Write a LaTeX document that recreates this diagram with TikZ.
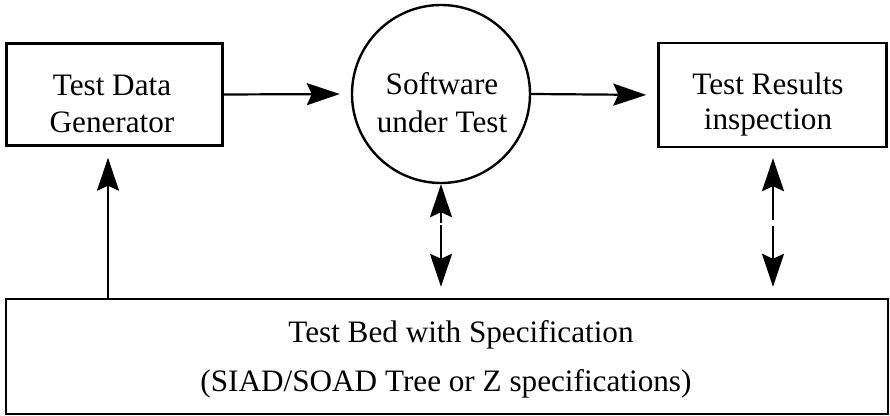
\documentclass[tikz,border=0pt]{standalone}
\usepackage{fontspec}
\setmainfont{Liberation Serif}
\usetikzlibrary{arrows.meta}

\tikzset{
  box/.style={draw, line width=1.2pt, rectangle, inner sep=0pt},
  disc/.style={draw, line width=1.2pt, circle, inner sep=0pt, minimum size=89pt},
  txt/.style={anchor=base, inner sep=0pt, font=\fontsize{15.6}{18}\selectfont},
  flow/.style={line width=1.1pt, -{Stealth[length=16.5pt, width=11pt, inset=2.5pt]}},
}

\begin{document}
\begin{tikzpicture}[x=0.5pt, y=-0.5pt]
  \useasboundingbox (0,0) rectangle (890,416);

  % main blocks
  \node[box, minimum width=108pt, minimum height=51pt] (gen) at (114.5,94.5) {};
  \node[disc] (sut) at (441,94) {};
  \node[box, minimum width=114pt, minimum height=52pt] (res) at (772.5,95) {};
  \node[box, minimum width=441pt, minimum height=57.5pt] (bed) at (447,356.5) {};

  % labels
  \node[txt] (genA) at (112,96) {Test Data};
  \node[txt] (genB) at (112,133) {Generator};
  \node[txt] (sutA) at (442,95) {Software};
  \node[txt] (sutB) at (442,133) {under Test};
  \node[txt] (resA) at (768,95) {Test Results};
  \node[txt] (resB) at (768,130) {inspection};
  \node[txt] (bedA) at (461,343) {Test Bed with Specification};
  \node[txt] (bedB) at (446,392) {(SIAD/SOAD Tree or Z specifications)};

  % junction points for the vertical links
  \coordinate (gfoot) at (108,299);
  \coordinate (sm1) at (441,223);
  \coordinate (sm2) at (441,225);
  \coordinate (rm1) at (773,220);
  \coordinate (rm2) at (773,226);

  % horizontal flow
  \draw[flow, shorten >=5.5pt] (gen.east) -- (sut.west);
  \draw[flow, shorten >=5.5pt] (sut.east) -- (res.west);

  % test bed feeds the generator
  \draw[flow, shorten >=5.5pt] (gfoot) -- (gfoot |- gen.south);

  % two-way links between test bed and the upper blocks
  \draw[flow] (sm1) -- (sm1 |- sut.south);
  \draw[flow, shorten >=5.5pt] (sm2) -- (sm2 |- bed.north);
  \draw[flow, shorten >=5pt] (rm1) -- (rm1 |- res.south);
  \draw[flow, shorten >=5.5pt] (rm2) -- (rm2 |- bed.north);
\end{tikzpicture}
\end{document}
